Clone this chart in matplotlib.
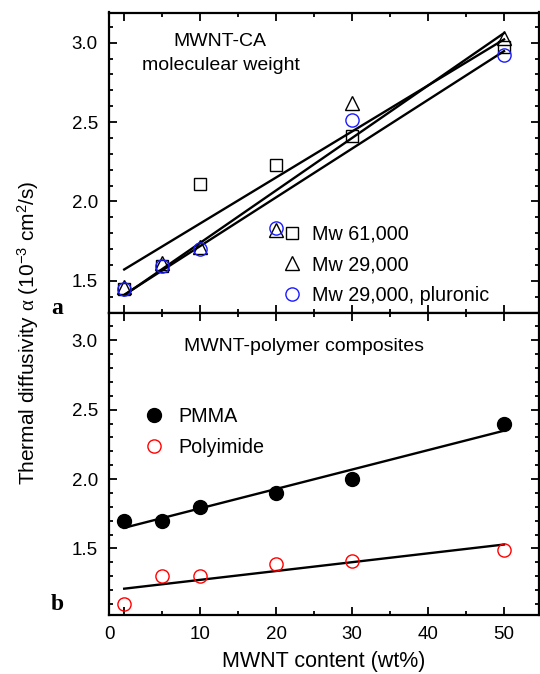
import numpy as np
import matplotlib
matplotlib.use('Agg')
import matplotlib.pyplot as plt
from matplotlib.ticker import MultipleLocator, FixedLocator, FixedFormatter

plt.rcParams['font.family'] = ['Liberation Sans', 'DejaVu Sans']
plt.rcParams['mathtext.fontset'] = 'custom'
plt.rcParams['mathtext.rm'] = 'Liberation Sans'
plt.rcParams['mathtext.it'] = 'Liberation Serif'
plt.rcParams['mathtext.bf'] = 'Liberation Sans:bold'

# contenido de MWNT (wt%)
x = np.array([0, 5, 10, 20, 30, 50])

# panel a: MWNT-CA, distintos pesos moleculares
mw61 = np.array([1.45, 1.59, 2.11, 2.23, 2.41, 2.97])
mw29 = np.array([1.46, 1.61, 1.71, 1.82, 2.62, 3.03])
mw29_pluronic = np.array([1.45, 1.59, 1.70, 1.83, 2.51, 2.92])

# panel b: composites MWNT-polimero
pmma = np.array([1.70, 1.70, 1.80, 1.90, 2.00, 2.40])
polyimide = np.array([1.10, 1.30, 1.30, 1.39, 1.41, 1.49])

xticks = [0, 10, 20, 30, 40, 50]
xticklabels = ['', '10', '20', '30', '40', '50']

W, H = 540, 674
fig = plt.figure(figsize=(W / 100, H / 100), dpi=100)
left, right = 109 / W, 539 / W
top, mid, bot = 1 - 12.5 / H, 1 - 312.5 / H, 1 - 615 / H
ax1 = fig.add_axes([left, mid, right - left, top - mid])
ax2 = fig.add_axes([left, bot, right - left, mid - bot])


def ajustar(y):
    # recta de ajuste por minimos cuadrados
    m, b = np.polyfit(x, y, 1)
    xx = np.array([x[0], x[-1]])
    return xx, m * xx + b


for ax in (ax1, ax2):
    ax.set_xlim(-2, 54.6)
    ax.xaxis.set_major_locator(FixedLocator(xticks))
    ax.xaxis.set_minor_locator(MultipleLocator(5))
    ax.yaxis.set_major_locator(MultipleLocator(0.5))
    ax.yaxis.set_minor_locator(MultipleLocator(0.1))
    ax.tick_params(which='both', direction='in', top=True, right=True,
                   width=1.3, labelsize=13.5, pad=8)
    ax.tick_params(which='major', length=5.5)
    ax.tick_params(which='minor', length=3)
    for s in ax.spines.values():
        s.set_linewidth(1.6)

# ---- panel a ----
for y in (mw61, mw29, mw29_pluronic):
    xx, yy = ajustar(y)
    ax1.plot(xx, yy, color='black', lw=1.7, zorder=1)
h1, = ax1.plot(x, mw61, 's', ms=8, mfc='none', mec='black', mew=1.0, zorder=2)
h2, = ax1.plot(x, mw29, '^', ms=10.5, mfc='none', mec='black', mew=1.0, zorder=3)
h3, = ax1.plot(x, mw29_pluronic, 'o', ms=9.5, mfc='none', mec='#1a1aff', mew=1.0, zorder=4)
ax1.set_ylim(1.30, 3.19)
ax1.tick_params(labelbottom=False)
ax1.legend([h1, h2, h3], ['Mw 61,000', 'Mw 29,000', 'Mw 29,000, pluronic'],
           loc='upper left', bbox_to_anchor=(282 / W, 1 - 224.5 / H),
           bbox_transform=fig.transFigure, frameon=False, fontsize=14.2,
           handlelength=1.0, handletextpad=0.5, labelspacing=0.6, borderpad=0,
           borderaxespad=0)
fig.text(219.5 / W, 1 - 41 / H, 'MWNT-CA', ha='center', va='center', fontsize=14)
fig.text(221 / W, 1 - 65 / H, 'moleculear weight', ha='center', va='center', fontsize=14)

# ---- panel b ----
for y in (pmma, polyimide):
    xx, yy = ajustar(y)
    ax2.plot(xx, yy, color='black', lw=1.7, zorder=1)
g1, = ax2.plot(x, pmma, 'o', ms=10, mfc='black', mec='black', zorder=2)
g2, = ax2.plot(x, polyimide, 'o', ms=9.5, mfc='none', mec='red', mew=1.0, zorder=2)
ax2.set_ylim(1.02, 3.20)
ax2.xaxis.set_major_formatter(FixedFormatter(xticklabels))
ax2.annotate('0', xy=(-1.95, 0), xycoords=('data', 'axes fraction'),
             xytext=(0, -8), textcoords='offset points', ha='center', va='top',
             fontsize=13.5)
ax2.legend([g1, g2], ['PMMA', 'Polyimide'],
           loc='upper left', bbox_to_anchor=(144 / W, 1 - 407 / H),
           bbox_transform=fig.transFigure, frameon=False, fontsize=14.2,
           handlelength=1.0, handletextpad=0.75, labelspacing=0.6, borderpad=0,
           borderaxespad=0)
fig.text(304 / W, 1 - 347 / H, 'MWNT-polymer composites', ha='center', va='center', fontsize=14)

ax2.set_xlabel('MWNT content (wt%)', fontsize=15.5, labelpad=6)

fig.text(28 / W, 1 - 333 / H, r'Thermal diffusivity $\alpha$ (10$^{-3}$ cm$^2$/s)',
         rotation=90, ha='center', va='center', fontsize=15)
fig.text(57 / W, 1 - 308 / H, 'a', family='Liberation Serif', fontweight='bold',
         fontsize=17, ha='center', va='center')
fig.text(57 / W, 1 - 604 / H, 'b', family='Liberation Serif', fontweight='bold',
         fontsize=17, ha='center', va='center')

fig.savefig('out.png', dpi=100)
